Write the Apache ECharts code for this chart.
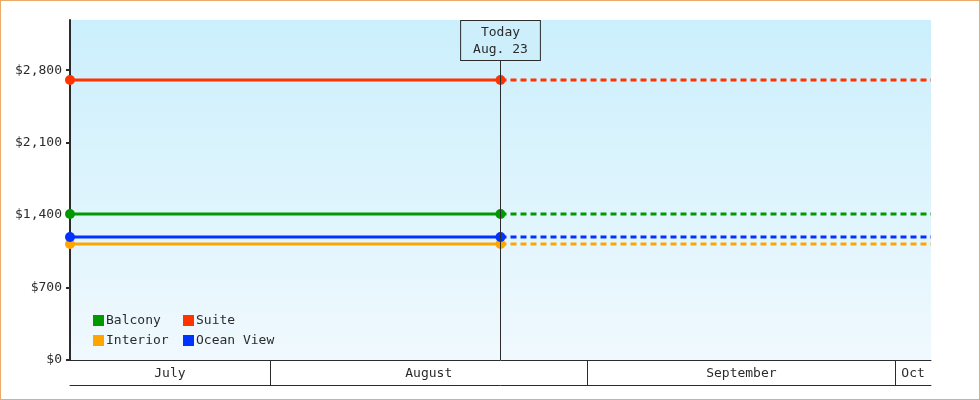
<!DOCTYPE html>
<html lang="en">
<head>
    <meta charset="UTF-8">
    <title>cabin_price_chart</title>
    <script src="https://cdn.jsdelivr.net/npm/echarts@6/dist/echarts.min.js"></script>
    <style>
        html, body { margin: 0; padding: 0; background: #fff; }
        #mainChart { width: 980px; height: 400px; }
        #frame { position: absolute; left: 0; top: 0; width: 980px; height: 400px; box-sizing: border-box;
                 border: 1px solid #e9ab67; pointer-events: none; z-index: 10; }
    </style>
</head>

<body>
    <div id="mainChart"></div>
    <div id="frame"></div>
    <script>
        const cabins = ['Balcony', 'Suite', 'Interior', 'Ocean View']
        const cabinColors = ['#009900', '#ff3300', '#ffa500', '#0033ff']
        const prices = [1410, 2705, 1120, 1188]

        const startDate = '2024-07-12T12:00:00Z'
        const todayDate = '2024-08-23T12:00:00Z'
        const endDate = '2024-10-04T12:00:00Z'
        const monthStarts = ['2024-08-01T00:00:00Z', '2024-09-01T00:00:00Z', '2024-10-01T00:00:00Z']
        const monthNames = ['July', 'August', 'September', 'Oct']
        const todayText = ['Today', 'Aug. 23']

        const yTicks = [0, 700, 1400, 2100, 2800]
        const yMax = 3285

        const font = 'DejaVu Sans Mono'
        const ink = '#2b2b2b'

        let tStart = Date.parse(startDate)
        let tToday = Date.parse(todayDate)
        let tEnd = Date.parse(endDate)
        let bounds = monthStarts.map(d => Date.parse(d))

        // label sits in the middle of the visible part of each month
        let edges = [tStart].concat(bounds, [tEnd])
        let mids = []
        for (let i = 0; i < edges.length - 1; i++) {
            mids.push((edges[i] + edges[i + 1]) / 2)
        }

        let series = []
        cabins.forEach((name, i) => {
            series.push({
                type: 'line',
                name: name,
                data: [[tStart, prices[i]], [tToday, prices[i]]],
                color: cabinColors[i],
                lineStyle: { width: 3 },
                symbol: 'circle',
                symbolSize: 10,
                clip: false,
                z: 3
            })
            series.push({
                type: 'line',
                name: name,
                data: [[tToday, prices[i]], [tEnd, prices[i]]],
                color: cabinColors[i],
                lineStyle: { width: 3, type: [6, 4] },
                symbol: 'none',
                z: 2
            })
        })

        series[0].markLine = {
            silent: true,
            symbol: ['none', 'none'],
            lineStyle: { color: ink, width: 1, type: 'solid' },
            label: {
                show: true,
                position: 'end',
                distance: -40,
                formatter: todayText.join('\n'),
                color: ink,
                fontFamily: font,
                fontSize: 13,
                lineHeight: 17,
                align: 'center',
                backgroundColor: '#cdeffc',
                borderColor: ink,
                borderWidth: 1,
                padding: [3, 12, 2, 12]
            },
            emphasis: { disabled: true },
            data: [{ xAxis: tToday }]
        }

        let legendBase = {
            orient: 'vertical',
            top: 314,
            padding: 0,
            itemWidth: 11,
            itemHeight: 11,
            itemGap: 7,
            icon: 'rect',
            selectedMode: false,
            textStyle: { color: ink, fontFamily: font, fontSize: 13, lineHeight: 13, padding: [0, 0, 0, -3] }
        }

        let chartsData = {
            animation: false,
            grid: {
                left: 70,
                right: 49,
                top: 20,
                bottom: 40,
                show: true,
                borderWidth: 0,
                backgroundColor: new echarts.graphic.LinearGradient(0, 0, 0, 1, [
                    { offset: 0, color: '#cbeffc' },
                    { offset: 1, color: '#f0f9fe' }
                ])
            },
            legend: [
                Object.assign({}, legendBase, { left: 93, data: ['Balcony', 'Interior'] }),
                Object.assign({}, legendBase, { left: 183, data: ['Suite', 'Ocean View'] })
            ],
            xAxis: [
                {
                    type: 'value',
                    min: tStart,
                    max: tEnd,
                    splitLine: { show: false },
                    axisLine: { onZero: false, lineStyle: { color: ink, width: 1 } },
                    axisTick: {
                        show: true,
                        customValues: bounds,
                        length: 25,
                        lineStyle: { color: ink, width: 1 }
                    },
                    axisLabel: {
                        customValues: mids,
                        margin: 7,
                        color: ink,
                        fontFamily: font,
                        fontSize: 13,
                        formatter: function (v) {
                            let best = 0
                            for (let i = 1; i < mids.length; i++) {
                                if (Math.abs(mids[i] - v) < Math.abs(mids[best] - v)) best = i
                            }
                            return monthNames[best]
                        }
                    }
                },
                {
                    type: 'value',
                    position: 'bottom',
                    offset: 25,
                    min: tStart,
                    max: tEnd,
                    splitLine: { show: false },
                    axisLine: { onZero: false, lineStyle: { color: ink, width: 1 } },
                    axisTick: { show: false },
                    axisLabel: { show: false }
                }
            ],
            yAxis: {
                type: 'value',
                min: 0,
                max: yMax,
                splitLine: { show: false },
                axisLine: { show: true, onZero: false, lineStyle: { color: ink, width: 2 } },
                axisTick: { show: true, customValues: yTicks, length: 4, lineStyle: { color: ink, width: 2 } },
                axisLabel: {
                    customValues: yTicks,
                    margin: 8,
                    color: ink,
                    fontFamily: font,
                    fontSize: 13,
                    formatter: v => '$' + v.toLocaleString('en-US')
                }
            },
            series: series
        }

        let charts = echarts.init(document.querySelector('#mainChart'))
        charts.setOption(chartsData, true)
    </script>
</body>

</html>
